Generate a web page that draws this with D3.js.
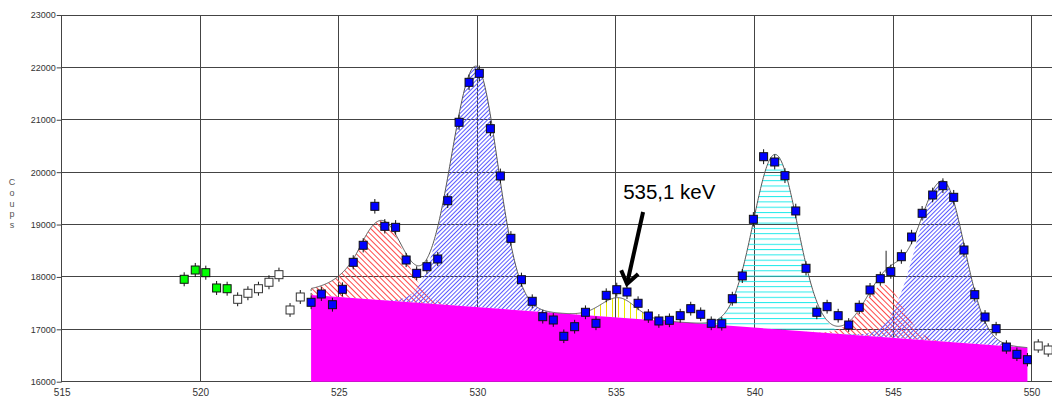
<!DOCTYPE html>
<html lang="fr">
<head>
<meta charset="utf-8">
<title>Spectre 515 - 550 keV</title>
<script src="https://d3js.org/d3.v7.min.js"></script>
<style>
  body { margin: 0; background: #fff; }
  svg { display: block; font-family: "Liberation Sans", Arial, sans-serif; }
  .tick text { fill: #333; }
</style>
</head>
<body>
<script>
var w = 1052, h = 400;

// ---- data ----
// points outside the fit window (left, green)
var greenEnergy = [519.42, 519.82, 520.20, 520.59, 520.97];
var greenCounts = [17955, 18132, 18081, 17789, 17775];

// points not used by the fit (open squares)
var openEnergy = [521.35, 521.72, 522.10, 522.48, 522.84, 523.24, 523.61, 550.24, 550.60];
var openCounts = [17573, 17688, 17775, 17898, 18043, 17369, 17617, 16682, 16605];

// points inside the fit window (blue)
var fitEnergy = [524.00, 524.37, 524.77, 525.13, 525.52, 525.88, 526.30, 526.66, 527.05, 527.43,
                 527.81, 528.18, 528.57, 528.93, 529.34, 529.70, 530.07, 530.47, 530.83, 531.21,
                 531.59, 531.98, 532.36, 532.74, 533.12, 533.51, 533.90, 534.28, 534.65, 535.03,
                 535.40, 535.80, 536.17, 536.55, 536.93, 537.32, 537.70, 538.06, 538.44, 538.82,
                 539.20, 539.56, 539.96, 540.33, 540.73, 541.10, 541.49, 541.86, 542.25, 542.62,
                 543.02, 543.40, 543.78, 544.17, 544.54, 544.92, 545.30, 545.67, 546.05, 546.43,
                 546.80, 547.19, 547.56, 547.95, 548.32, 548.72, 549.09, 549.47, 549.85];
var fitCounts = [17516, 17674, 17470, 17764, 18279, 18604, 19348, 18966, 18947, 18323,
                 18069, 18195, 18342, 19455, 20952, 21715, 21887, 20830, 19927, 18737,
                 17947, 17535, 17241, 17178, 16867, 17050, 17325, 17115, 17649, 17756,
                 17712, 17497, 17254, 17159, 17172, 17260, 17394, 17287, 17115, 17107,
                 17584, 18018, 19100, 20295, 20194, 19933, 19259, 18165, 17325, 17432,
                 17260, 17082, 17420, 17751, 17966, 18100, 18386, 18762, 19215, 19564,
                 19742, 19520, 18514, 17661, 17235, 17012, 16662, 16523, 16420];

// linear background under the fit
var bgEnergy = [524.00, 549.85];
var bgCounts = [17655, 16650];

// fitted peaks (asymmetric gaussians, optional low-energy tail in sigma units)
var peakCenter = [526.55, 529.95, 535.10, 540.75, 544.70, 546.80];
var peakHeight = [1520, 4600, 380, 3335, 1000, 3060];
var peakSigmaL = [0.85, 0.90, 0.63, 0.79, 0.75, 0.95];
var peakSigmaR = [0.80, 0.78, 0.60, 0.80, 0.65, 0.77];
var peakTail   = [1.0, null, null, null, null, null];
var peakHatch  = ["hRed", "hBlue", "hYellow", "hCyan", "hRed", "hBlue"];

var markerEnergy = 544.75, markerCounts = [18080, 18500];

var xTicks = [515, 520, 525, 530, 535, 540, 545, 550];
var yTicks = [16000, 17000, 18000, 19000, 20000, 21000, 22000, 23000];

var note = {text: "535,1 keV", x: 535.26, y: 19488,
            arrowFrom: [535.98, 19240], arrowTo: [535.40, 17865]};

// ---- scales ----
var x = d3.scaleLinear().domain([515, 551]).range([61.7, 1059.3]);
var y = d3.scaleLinear().domain([16000, 23000]).range([381.7, 15]);

function bg(e) {
  var t = (e - bgEnergy[0]) / (bgEnergy[1] - bgEnergy[0]);
  return bgCounts[0] + t * (bgCounts[1] - bgCounts[0]);
}
function peak(i, e) {
  var c = peakCenter[i], s = e < c ? peakSigmaL[i] : peakSigmaR[i];
  var z = (e - c) / s, t = peakTail[i];
  if (t != null && z < -t) return peakHeight[i] * Math.exp(t * z + t * t / 2);
  return peakHeight[i] * Math.exp(-z * z / 2);
}
function total(e) {
  var v = bg(e);
  for (var i = 0; i < peakCenter.length; i++) v += peak(i, e);
  return v;
}

var grid = d3.range(bgEnergy[0], bgEnergy[1] + 0.0001, 0.02);

var svg = d3.select("body").append("svg").attr("width", w).attr("height", h);

// hatch patterns
var defs = svg.append("defs");
function hatch(id, color, size, angle) {
  var p = defs.append("pattern").attr("id", id)
    .attr("patternUnits", "userSpaceOnUse")
    .attr("width", size).attr("height", size)
    .attr("patternTransform", "rotate(" + angle + ")");
  p.append("line").attr("x1", 0.5).attr("y1", -1).attr("x2", 0.5).attr("y2", size + 1)
    .attr("stroke", color).attr("stroke-width", 1);
}
hatch("hRed", "#ff4848", 4, -45);
hatch("hBlue", "#5a5aff", 3, 45);
hatch("hYellow", "#e8e800", 6, 0);
hatch("hCyan", "#22eaea", 5.3, 90);

// grid
var gGrid = svg.append("g").attr("stroke", "#444").attr("stroke-width", 1)
  .attr("shape-rendering", "crispEdges");
gGrid.selectAll(".vx").data(xTicks).enter().append("line")
  .attr("x1", d => x(d)).attr("x2", d => x(d))
  .attr("y1", y(16000)).attr("y2", y(23000));
gGrid.selectAll(".hy").data(yTicks).enter().append("line")
  .attr("x1", x(515)).attr("x2", x(551))
  .attr("y1", d => y(d)).attr("y2", d => y(d));

// hatched peak areas above background
var peakArea = d3.area().x(d => x(d.e)).y0(d => y(d.b)).y1(d => y(d.b + d.p));
peakCenter.forEach(function(c, i) {
  var pts = grid.map(e => ({e: e, b: bg(e), p: peak(i, e)}));
  svg.append("path").datum(pts)
    .attr("d", peakArea)
    .attr("fill", "url(#" + peakHatch[i] + ")")
    .attr("stroke", "none");
});

// magenta background
var bgArea = d3.area().x(d => x(d[0])).y0(y(16000)).y1(d => y(d[1]));
svg.append("path").datum(bgEnergy.map((e, i) => [e, bgCounts[i]]))
  .attr("d", bgArea).attr("fill", "#ff00ff");

// fit curve
svg.append("path").datum(grid)
  .attr("d", d3.line().x(e => x(e)).y(e => y(total(e))))
  .attr("fill", "none").attr("stroke", "#555").attr("stroke-width", 1);

// dotted ends of fit window
svg.selectAll(".endl").data(bgEnergy).enter().append("line")
  .attr("x1", d => x(d)).attr("x2", d => x(d))
  .attr("y1", d => y(bg(d))).attr("y2", d => y(total(d)))
  .attr("stroke", "#666").attr("stroke-dasharray", "2,2");

// marker line
svg.append("line")
  .attr("x1", x(markerEnergy)).attr("x2", x(markerEnergy))
  .attr("y1", y(markerCounts[0])).attr("y2", y(markerCounts[1]))
  .attr("stroke", "#222").attr("stroke-width", 1);

// axes
var yAxis = d3.axisLeft(y).tickValues(yTicks).tickSize(5).tickPadding(1)
  .tickFormat(d3.format("d"));
svg.append("g").attr("transform", "translate(" + x(515) + ",0)")
  .call(yAxis)
  .call(g => g.select(".domain").remove())
  .call(g => g.selectAll(".tick line").attr("stroke", "#444"))
  .call(g => g.selectAll("text").attr("font-size", 9));

var xAxis = d3.axisBottom(x).tickValues(xTicks).tickSize(0).tickPadding(7);
svg.append("g").attr("transform", "translate(0," + y(16000) + ")")
  .call(xAxis)
  .call(g => g.select(".domain").remove())
  .call(g => g.selectAll("text").attr("font-size", 10));

// y label, letters stacked
var lab = svg.append("text").attr("x", 12).attr("y", 185)
  .attr("text-anchor", "middle").attr("font-size", 9).attr("fill", "#555");
"Coups".split("").forEach(function(ch, i) {
  lab.append("tspan").attr("x", 12).attr("dy", i ? 10.8 : 0).text(ch);
});

// points with error bars
function drawPoints(es, cs, fill, stroke) {
  var g = svg.append("g");
  var d = es.map((e, i) => [e, cs[i]]);
  g.selectAll("line").data(d).enter().append("line")
    .attr("x1", p => x(p[0])).attr("x2", p => x(p[0]))
    .attr("y1", p => y(p[1] - Math.sqrt(p[1]))).attr("y2", p => y(p[1] + Math.sqrt(p[1])))
    .attr("stroke", "#111").attr("stroke-width", 1);
  g.selectAll("rect").data(d).enter().append("rect")
    .attr("x", p => x(p[0]) - 4).attr("y", p => y(p[1]) - 4)
    .attr("width", 8).attr("height", 8)
    .attr("fill", fill).attr("stroke", stroke).attr("stroke-width", 1);
}
drawPoints(greenEnergy, greenCounts, "#00ff00", "#111");
drawPoints(openEnergy, openCounts, "#fff", "#333");
drawPoints(fitEnergy, fitCounts, "#0000ff", "#111");

// annotation
svg.append("text").attr("x", x(note.x)).attr("y", y(note.y))
  .attr("font-size", 20.5).attr("fill", "#000").text(note.text);

var ax0 = x(note.arrowFrom[0]), ay0 = y(note.arrowFrom[1]);
var ax1 = x(note.arrowTo[0]), ay1 = y(note.arrowTo[1]);
var ang = Math.atan2(ay1 - ay0, ax1 - ax0), headLen = 15, spread = 0.62;
svg.append("line").attr("x1", ax0).attr("y1", ay0).attr("x2", ax1).attr("y2", ay1)
  .attr("stroke", "#000").attr("stroke-width", 4);
svg.append("polyline")
  .attr("points", [
    [ax1 - headLen * Math.cos(ang - spread), ay1 - headLen * Math.sin(ang - spread)],
    [ax1, ay1],
    [ax1 - headLen * Math.cos(ang + spread), ay1 - headLen * Math.sin(ang + spread)]
  ].map(p => p.join(",")).join(" "))
  .attr("fill", "none").attr("stroke", "#000").attr("stroke-width", 4)
  .attr("stroke-linejoin", "miter");
</script>
</body>
</html>
